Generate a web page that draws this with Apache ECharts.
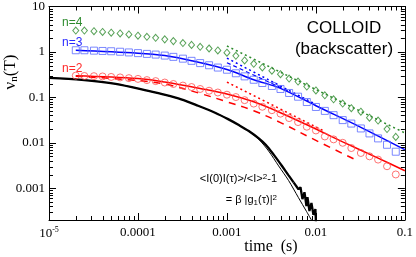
<!DOCTYPE html>
<html><head><meta charset="utf-8">
<script src="https://cdn.jsdelivr.net/npm/echarts@6/dist/echarts.min.js"></script>
<style>html,body{margin:0;padding:0;background:#fff}#c{width:416px;height:257px}</style>
</head><body><div id="c"></div>
<script>
// ---- data ----
const tau = [2.0e-5, 2.5e-5, 3.2e-5, 4.0e-5, 5.0e-5, 6.3e-5, 7.9e-5, 1.0e-4, 1.26e-4, 1.58e-4,
  2.0e-4, 2.5e-4, 3.2e-4, 4.0e-4, 5.0e-4, 6.3e-4, 7.9e-4, 1.0e-3, 1.26e-3, 1.58e-3,
  2.0e-3, 2.5e-3, 3.2e-3, 4.0e-3, 5.0e-3, 6.3e-3, 7.9e-3, 1.0e-2, 1.26e-2, 1.58e-2,
  2.0e-2, 2.5e-2, 3.2e-2, 4.0e-2, 5.0e-2, 6.3e-2, 7.9e-2];
const n4 = [2.96, 2.96, 2.86, 2.76, 2.65, 2.55, 2.43, 2.28, 2.15, 2.05, 1.89, 1.73, 1.57, 1.43, 1.30, 1.19, 1.08,
  0.96, 0.82, 0.65, 0.548, 0.456, 0.386, 0.324, 0.259, 0.223, 0.173, 0.142, 0.111, 0.0905, 0.0729, 0.0577,
  0.0484, 0.0358, 0.0308, 0.0201, 0.0135];
const n3 = [1.089, 1.089, 1.067, 1.051, 1.036, 1.010, 0.975, 0.942, 0.905, 0.874, 0.831, 0.779, 0.711, 0.637,
  0.568, 0.509, 0.453, 0.406, 0.339, 0.290, 0.244, 0.207, 0.178, 0.153, 0.125, 0.1035, 0.079, 0.0615, 0.0504,
  0.0406, 0.0316, 0.0265, 0.0207, 0.0161, 0.0125, 0.00905, 0.00637];
const n2 = [0.301, 0.296, 0.293, 0.289, 0.282, 0.275, 0.265, 0.255, 0.240, 0.228, 0.212, 0.197, 0.182, 0.169,
  0.153, 0.140, 0.128, 0.1145, 0.1015, 0.0869, 0.0730, 0.0621, 0.0522, 0.0438, 0.0350, 0.0286, 0.0226, 0.0187,
  0.0138, 0.0119, 0.0100, 0.00767, 0.00597, 0.00504, 0.00427, 0.00305, 0.00201];

const n3FitX = [2e-5, 1e-4, 2e-4, 4e-4, 1e-3, 2e-3, 4e-3, 1e-2, 3.2e-2, 1e-1];
const n3FitY = [1.09, 0.94, 0.83, 0.64, 0.41, 0.245, 0.158, 0.0654, 0.0219, 0.00705];
const n2FitX = [2e-5, 1e-4, 2e-4, 5e-4, 1e-3, 2e-3, 4e-3, 1e-2, 2e-2, 5e-2, 1e-1];
const n2FitY = [0.298, 0.259, 0.217, 0.157, 0.119, 0.0798, 0.046, 0.0201, 0.0105, 0.0046, 0.00243];

const n4DotX = [1e-3, 1e-2, 1e-1];
const n4DotY = [1.35, 0.149, 0.0165];
const n3DotX = [1e-3, 1e-2];
const n3DotY = [0.73, 0.07];
const n3DashX = [1e-3, 5e-3];
const n3DashY = [0.58, 0.135];
const n2DotX = [1e-3, 1.26e-2];
const n2DotY = [0.217, 0.0178];
const n2DashX = [2e-5, 1e-4, 2e-4, 5e-4, 1e-3, 2e-3, 4e-3, 1e-2, 3e-2];
const n2DashY = [0.293, 0.234, 0.197, 0.122, 0.0798, 0.0509, 0.0279, 0.0113, 0.00396];

const g2X = [1e-5, 2.34e-5, 5.61e-5, 1.31e-4, 2.03e-4, 3.06e-4, 4.74e-4, 7.35e-4, 1.03e-3, 1.36e-3, 1.76e-3,
  2.28e-3, 2.73e-3, 3.35e-3, 4.12e-3, 4.93e-3, 5.61e-3];
const g2Y = [0.268, 0.2426, 0.1985, 0.1384, 0.1133, 0.0905, 0.0653, 0.0460, 0.0332, 0.0246, 0.0182,
  0.0125, 0.00905, 0.00548, 0.00316, 0.00192, 0.00135];
const g2NoiseX = [5.61e-3, 6.37e-3, 6.71e-3, 7.06e-3, 7.44e-3, 7.83e-3, 8.04e-3, 8.46e-3, 8.91e-3,
  9.38e-3, 9.87e-3, 1.0e-2];
const g2NoiseY = [0.00135, 0.00095, 0.00105, 0.000577, 0.000818, 0.000406, 0.000637, 0.000316, 0.000472,
  0.000259, 0.000349, 0.00018];
const g2FitX = [1e-5, 2.34e-5, 5.61e-5, 1.31e-4, 2.03e-4, 3.06e-4, 4.74e-4, 7.35e-4, 1.03e-3, 1.36e-3, 1.76e-3,
  2.28e-3, 2.94e-3, 3.81e-3, 4.93e-3, 6.37e-3, 7.83e-3, 8.91e-3];
const g2FitY = [0.268, 0.2426, 0.1985, 0.1384, 0.1133, 0.0905, 0.0653, 0.0460, 0.0332, 0.0246, 0.0180,
  0.0119, 0.0066, 0.0031, 0.00148, 0.00062, 0.00031, 0.0002];

const xTickVals = [1e-5, 1e-4, 1e-3, 1e-2, 1e-1];
const xTickText = ['{b|10}{s|-5}', '0.0001', '0.001', '0.01', '0.1'];
const yTickVals = [1e-3, 1e-2, 1e-1, 1, 10];
const yTickText = ['0.001', '0.01', '0.1', '1', '10'];
const X_MIN = 1e-5, X_MAX = 0.1, Y_MIN = 2e-4, Y_MAX = 10;

// ---- helpers ----
const pairs = (xs, ys) => xs.map((x, i) => [x, ys[i]]);
const matchTick = (v, vals, txt) => {
  const i = vals.findIndex(t => Math.abs(Math.log10(v) - Math.log10(t)) < 1e-6);
  return i < 0 ? '' : txt[i];
};
const minorX = [], minorY = [];
for (let d = -5; d < -1; d++) for (let m = 2; m < 10; m++) minorX.push(m * Math.pow(10, d));
for (let d = -4; d < 1; d++) for (let m = 2; m < 10; m++) { const v = m * Math.pow(10, d); if (v > Y_MIN * 1.01) minorY.push(v); }

const SERIF = 'Liberation Serif', SANS = 'Liberation Sans';
const GREEN = '#2e8b2e', BLUE = '#0000ff', RED = '#ff0000';

function minorTicks(vals, isX) {
  return {
    type: 'custom', xAxisIndex: 0, yAxisIndex: 0, silent: true, z: 10, clip: false,
    data: vals.map(v => isX ? [v, 1] : [1e-3, v]),
    renderItem(params, api) {
      const cs = params.coordSys;
      const p = api.coord([api.value(0), api.value(1)]);
      const L = 4, st = { stroke: '#000', lineWidth: 1 };
      if (isX) {
        const x = Math.round(p[0]) + 0.5, top = cs.y, bot = cs.y + cs.height;
        return { type: 'group', children: [
          { type: 'line', shape: { x1: x, y1: bot, x2: x, y2: bot - L }, style: st },
          { type: 'line', shape: { x1: x, y1: top, x2: x, y2: top + L }, style: st }] };
      }
      const y = Math.round(p[1]) + 0.5, left = cs.x, right = cs.x + cs.width;
      return { type: 'group', children: [
        { type: 'line', shape: { x1: left, y1: y, x2: left + L, y2: y }, style: st },
        { type: 'line', shape: { x1: right, y1: y, x2: right - L, y2: y }, style: st }] };
    }
  };
}

const lineS = (xs, ys, color, width, type, smooth, z) => ({
  type: 'line', data: pairs(xs, ys), showSymbol: false, symbol: 'none', z: z || 3,
  lineStyle: { color, width, type: type || 'solid' }, smooth: smooth || false
});
const scat = (ys, symbol, color, size) => ({
  type: 'scatter', data: pairs(tau, ys), symbol, symbolSize: size, z: 4,
  itemStyle: { color: 'rgba(0,0,0,0)', borderColor: color, borderWidth: 1 }
});

const axisCommon = {
  type: 'log', logBase: 10,
  axisLine: { show: true, onZero: false, lineStyle: { color: '#000', width: 1 } },
  axisTick: { show: true, inside: true, length: 7, lineStyle: { color: '#000', width: 1 } },
  splitLine: { show: false }, minorTick: { show: false }
};

const chart = echarts.init(document.getElementById('c'), null, { renderer: 'canvas' });
chart.setOption({
  animation: false,
  backgroundColor: '#fff',
  grid: { left: 49, right: 9, top: 5, bottom: 37, containLabel: false },
  xAxis: [
    Object.assign({}, axisCommon, { position: 'bottom', min: X_MIN, max: X_MAX,
      axisLabel: { show: true, margin: 6, color: '#000', fontFamily: SERIF, fontSize: 13,
        formatter: v => matchTick(v, xTickVals, xTickText),
        rich: { b: { fontFamily: SERIF, fontSize: 13, color: '#000' },
                s: { fontFamily: SERIF, fontSize: 8, color: '#000', padding: [0, 0, 7, 0] } } } }),
    Object.assign({}, axisCommon, { position: 'top', min: X_MIN, max: X_MAX, axisLabel: { show: false } })
  ],
  yAxis: [
    Object.assign({}, axisCommon, { position: 'left', min: Y_MIN, max: Y_MAX,
      axisLabel: { show: true, margin: 4, color: '#000', fontFamily: SERIF, fontSize: 13,
        formatter: v => matchTick(v, yTickVals, yTickText) } }),
    Object.assign({}, axisCommon, { position: 'right', min: Y_MIN, max: Y_MAX, axisLabel: { show: false } })
  ],
  series: [
    minorTicks(minorX, true),
    minorTicks(minorY, false),
    lineS(g2X, g2Y, '#000', 2.3, 'solid', 0.3, 2),
    lineS(g2NoiseX, g2NoiseY, '#000', 2.3, 'solid', false, 2),
    lineS(g2FitX, g2FitY, '#000', 1, 'solid', 0.3, 2),
    lineS(n2FitX, n2FitY, RED, 1.5, 'solid', 0.35),
    lineS(n2DashX, n2DashY, RED, 1.5, [7, 6], 0.35),
    lineS(n2DotX, n2DotY, RED, 1.5, [2, 3]),
    lineS(n3FitX, n3FitY, BLUE, 1.5, 'solid', 0.35),
    lineS(n3DashX, n3DashY, BLUE, 1.2, [4, 3]),
    lineS(n3DotX, n3DotY, BLUE, 1.5, [2, 3]),
    lineS(n4DotX, n4DotY, GREEN, 1.5, [2, 3]),
    scat(n4, 'diamond', GREEN, [6, 7]),
    scat(n3, 'rect', '#5a6aff', 7),
    scat(n2, 'circle', '#ff5050', 7)
  ],
  graphic: [
    { type: 'text', x: 11, y: 72, rotation: Math.PI / 2, style: {
      text: '{a|ν}{s|n}{a|(T)}', align: 'center', verticalAlign: 'middle',
      rich: { a: { fontFamily: SERIF, fontSize: 17, color: '#000', lineHeight: 18 },
              s: { fontFamily: SERIF, fontSize: 11, color: '#000', lineHeight: 8, verticalAlign: 'bottom' } } } },
    { type: 'text', x: 271, y: 247, style: { text: 'time  (s)', fontFamily: SERIF, fontSize: 16, fill: '#000',
      align: 'center', verticalAlign: 'middle' } },
    { type: 'text', x: 344, y: 28, style: { text: 'COLLOID', fontFamily: SANS, fontSize: 17, fill: '#000',
      align: 'center', verticalAlign: 'middle' } },
    { type: 'text', x: 344, y: 49, style: { text: '(backscatter)', fontFamily: SANS, fontSize: 17, fill: '#000',
      align: 'center', verticalAlign: 'middle' } },
    { type: 'text', x: 62, y: 23, style: { text: 'n=4', fontFamily: SANS, fontSize: 12, fill: GREEN,
      align: 'left', verticalAlign: 'middle' } },
    { type: 'text', x: 62, y: 43, style: { text: 'n=3', fontFamily: SANS, fontSize: 12, fill: '#2a2aff',
      align: 'left', verticalAlign: 'middle' } },
    { type: 'text', x: 62, y: 69, style: { text: 'n=2', fontFamily: SANS, fontSize: 12, fill: '#ff2a2a',
      align: 'left', verticalAlign: 'middle' } },
    { type: 'text', x: 277, y: 179, style: {
      text: '{t|<I(0)I(τ)>/<I>}{p|2}{t|-1}', align: 'right', verticalAlign: 'middle',
      rich: { t: { fontFamily: SANS, fontSize: 11, color: '#111', lineHeight: 13 },
              p: { fontFamily: SANS, fontSize: 8, color: '#111', lineHeight: 8, verticalAlign: 'top' } } } },
    { type: 'text', x: 277, y: 200, style: {
      text: '{t|= β |g}{b|1}{t|(τ)|}{p|2}', align: 'right', verticalAlign: 'middle',
      rich: { t: { fontFamily: SANS, fontSize: 11, color: '#111', lineHeight: 13 },
              b: { fontFamily: SANS, fontSize: 8, color: '#111', lineHeight: 8, verticalAlign: 'bottom' },
              p: { fontFamily: SANS, fontSize: 8, color: '#111', lineHeight: 8, verticalAlign: 'top' } } } }
  ]
});
</script></body></html>
